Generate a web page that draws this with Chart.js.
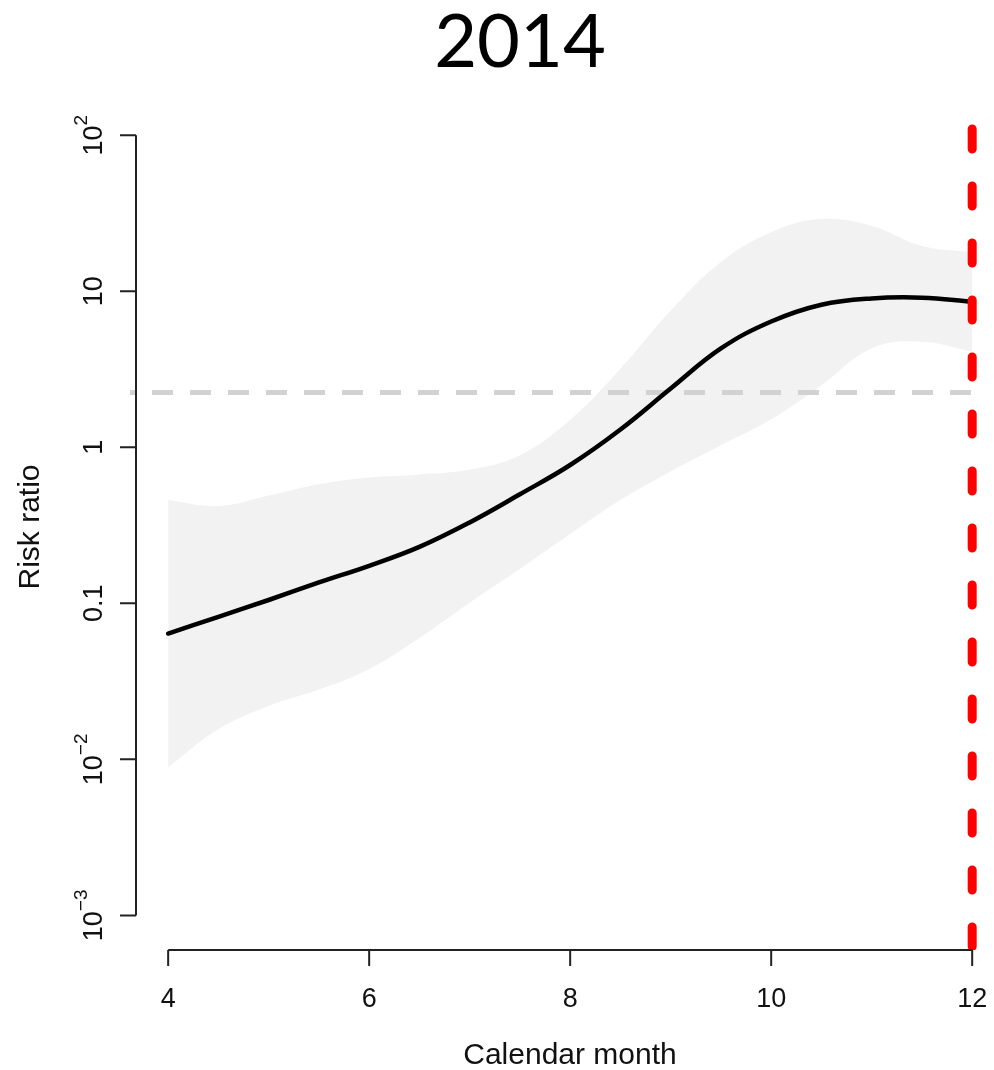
<!DOCTYPE html>
<html>
<head>
<meta charset="utf-8">
<script src="https://cdn.jsdelivr.net/npm/chart.js@4/dist/chart.umd.min.js"></script>
<style>
  html, body { margin: 0; padding: 0; background: #ffffff; overflow: hidden; }
  #wrap { position: relative; width: 994px; height: 1070px; }
  canvas { display: block; }
</style>
</head>
<body>
<div id="wrap"><canvas id="chart" width="994" height="1070"></canvas></div>
<script>
// Calendar month grid of the fitted curve
const months = [4, 4.5, 5, 5.5, 6, 6.5, 7, 7.5, 8, 8.5, 9, 9.5, 10, 10.5, 11, 11.5, 12];
// Fitted risk ratio
const riskRatio = [0.064, 0.082, 0.105, 0.136, 0.174, 0.23, 0.33, 0.50, 0.77, 1.30, 2.38, 4.3, 6.4, 8.2, 9.0, 9.1, 8.55];
// Confidence band
const lowerBound = [0.0089, 0.0156, 0.022, 0.028, 0.038, 0.060, 0.101, 0.166, 0.278, 0.459, 0.70, 1.03, 1.51, 2.5, 4.3, 4.75, 4.1];
const upperBound = [0.46, 0.42, 0.49, 0.58, 0.64, 0.67, 0.72, 0.89, 1.5, 3.19, 7.5, 15.4, 23.9, 29, 26.2, 19.5, 17.8];
// Reference levels
const thresholdRatio = 2.245;
const cutoffMonth = 12;
// Axis ticks
const xTickValues = [4, 6, 8, 10, 12];
const xTickLabels = ['4', '6', '8', '10', '12'];
const yTickValues = [0.001, 0.01, 0.1, 1, 10, 100];
const yTickBase = ['10', '10', '0.1', '1', '10', '10'];
const yTickExp = ['\u22123', '\u22122', '', '', '', '2'];
const titleText = '2014';
const xTitle = 'Calendar month';
const yTitle = 'Risk ratio';

const pts = (xs, ys) => xs.map((x, i) => ({ x: x, y: ys[i] }));

const FONT = '"Liberation Sans", Arial, Helvetica, sans-serif';

const axesPlugin = {
  id: 'rAxes',
  afterDraw(chart) {
    const ctx = chart.ctx;
    const xs = chart.scales.x, ys = chart.scales.y;
    const area = chart.chartArea;
    ctx.save();
    ctx.strokeStyle = '#222222';
    ctx.fillStyle = '#111111';
    ctx.lineWidth = 2;
    ctx.lineCap = 'butt';

    // x axis line and ticks
    const xAxisY = area.bottom;
    const x0 = xs.getPixelForValue(xTickValues[0]);
    const x1 = xs.getPixelForValue(xTickValues[xTickValues.length - 1]);
    ctx.beginPath();
    ctx.moveTo(x0, xAxisY);
    ctx.lineTo(x1, xAxisY);
    xTickValues.forEach(v => {
      const px = xs.getPixelForValue(v);
      ctx.moveTo(px, xAxisY);
      ctx.lineTo(px, xAxisY + 16);
    });
    ctx.stroke();

    ctx.font = '27px ' + FONT;
    ctx.textAlign = 'center';
    ctx.textBaseline = 'alphabetic';
    xTickValues.forEach((v, i) => {
      ctx.fillText(xTickLabels[i], xs.getPixelForValue(v), xAxisY + 57);
    });

    // y axis line and ticks
    const yAxisX = area.left;
    const yTop = ys.getPixelForValue(yTickValues[yTickValues.length - 1]);
    const yBot = ys.getPixelForValue(yTickValues[0]);
    ctx.beginPath();
    ctx.moveTo(yAxisX, yTop);
    ctx.lineTo(yAxisX, yBot);
    yTickValues.forEach(v => {
      const py = ys.getPixelForValue(v);
      ctx.moveTo(yAxisX, py);
      ctx.lineTo(yAxisX - 16, py);
    });
    ctx.stroke();

    // rotated y tick labels, with superscript exponents
    yTickValues.forEach((v, i) => {
      const py = ys.getPixelForValue(v);
      ctx.save();
      ctx.translate(102, py);
      ctx.rotate(-Math.PI / 2);
      ctx.textAlign = 'left';
      ctx.textBaseline = 'alphabetic';
      ctx.font = '27px ' + FONT;
      const wb = ctx.measureText(yTickBase[i]).width;
      ctx.font = '19px ' + FONT;
      const we = yTickExp[i] ? ctx.measureText(yTickExp[i]).width : 0;
      const start = -(wb + we) / 2;
      ctx.font = '27px ' + FONT;
      ctx.fillText(yTickBase[i], start, 0);
      if (yTickExp[i]) {
        ctx.font = '19px ' + FONT;
        ctx.fillText(yTickExp[i], start + wb, -15);
      }
      ctx.restore();
    });

    // axis titles
    ctx.font = '30px ' + FONT;
    ctx.textAlign = 'center';
    ctx.textBaseline = 'alphabetic';
    ctx.fillText(xTitle, 570, 1064);
    ctx.save();
    ctx.translate(39, (area.top + area.bottom) / 2);
    ctx.rotate(-Math.PI / 2);
    ctx.fillText(yTitle, 0, 0);
    ctx.restore();

    // panel title
    ctx.fillStyle = '#000000';
    ctx.font = '74px Lato, "Open Sans", sans-serif';
    ctx.fillText(titleText, 520, 67);
    ctx.restore();
  }
};

new Chart(document.getElementById('chart'), {
  type: 'line',
  data: {
    datasets: [
      {
        label: 'lower',
        data: pts(months, lowerBound),
        borderColor: 'rgba(0,0,0,0)',
        borderWidth: 0,
        pointRadius: 0,
        fill: false,
        tension: 0.4,
        order: 4
      },
      {
        label: 'upper',
        data: pts(months, upperBound),
        borderColor: 'rgba(0,0,0,0)',
        borderWidth: 0,
        backgroundColor: '#f2f2f2',
        pointRadius: 0,
        fill: '-1',
        tension: 0.4,
        order: 3
      },
      {
        label: 'threshold',
        data: [{ x: 3.62, y: thresholdRatio }, { x: cutoffMonth, y: thresholdRatio }],
        borderColor: '#d2d2d2',
        borderWidth: 5,
        borderDash: [21, 17],
        borderDashOffset: 16,
        pointRadius: 0,
        fill: false,
        clip: false,
        order: 2
      },
      {
        label: 'risk ratio',
        data: pts(months, riskRatio),
        borderColor: '#000000',
        borderWidth: 4.5,
        pointRadius: 0,
        fill: false,
        tension: 0.4,
        borderCapStyle: 'round',
        order: 1
      },
      {
        label: 'cutoff',
        data: [{ x: cutoffMonth, y: Math.pow(10, 2.2) }, { x: cutoffMonth, y: Math.pow(10, -3.2) }],
        borderColor: '#ff0000',
        borderWidth: 9,
        borderDash: [20, 37],
        borderDashOffset: 32,
        borderCapStyle: 'round',
        pointRadius: 0,
        fill: false,
        order: 0
      }
    ]
  },
  options: {
    responsive: false,
    animation: false,
    events: [],
    layout: { padding: { left: 136, right: 0, top: 104, bottom: 120 } },
    plugins: {
      legend: { display: false },
      tooltip: { enabled: false },
      title: { display: false }
    },
    scales: {
      x: { type: 'linear', display: false, min: 3.68, max: 12.217 },
      y: { type: 'logarithmic', display: false, min: Math.pow(10, -3.2), max: Math.pow(10, 2.2) }
    }
  },
  plugins: [axesPlugin]
});
</script>
</body>
</html>
